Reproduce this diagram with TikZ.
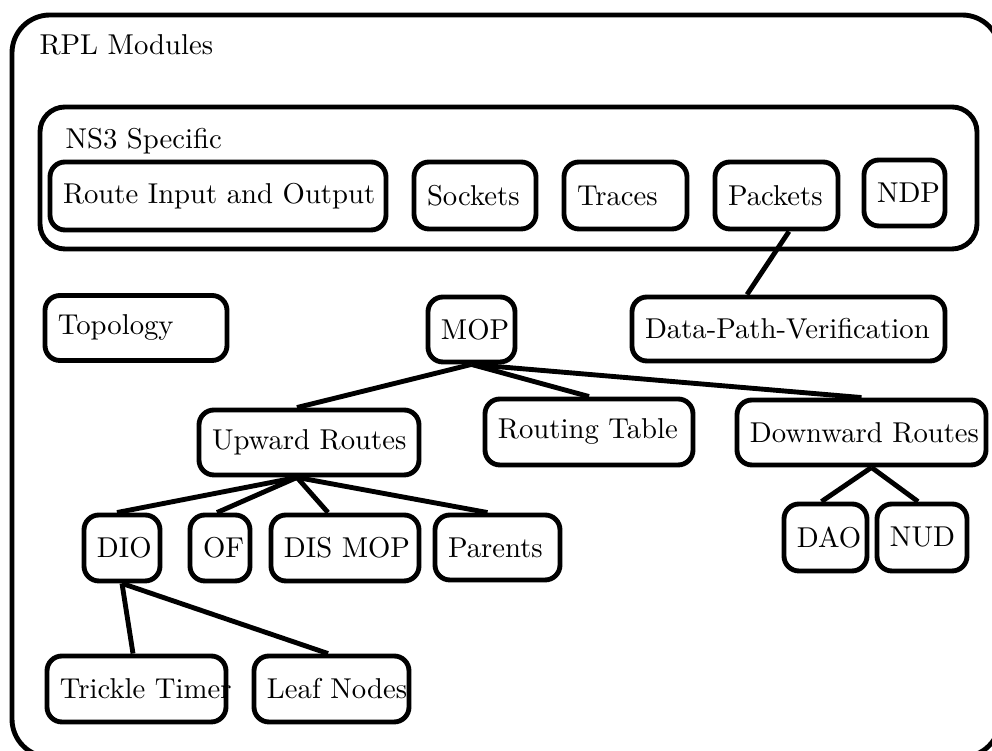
\documentclass[tikz,border=0pt]{standalone}
\usetikzlibrary{calc}
\newdimen\px \px=0.3484pt
\newcommand\bxt[2]{\makebox[#1\px][l]{#2}}
\begin{document}
\begin{tikzpicture}[x=0.3484pt, y=-0.3484pt,
  container/.style={draw, line width=1.7pt, inner sep=0pt},
  mbox/.style={draw, line width=1.7pt, rounded corners=5.2pt, inner xsep=13\px, inner ysep=0pt},
  title/.style={anchor=base west, inner sep=0pt},
  conn/.style={line width=1.7pt}]
\useasboundingbox (0,0) rectangle (992,751);

% containers
\node[container, rounded corners=13.2pt, minimum width=988\px, minimum height=742\px] (rpl) at (506,386) {};
\node[title] (rpltitle) at (39,55) {RPL Modules};
\node[container, rounded corners=8.7pt, minimum width=937\px, minimum height=142\px] (ns3) at (508.5,178) {};
\node[title] (ns3title) at (65,149) {NS3 Specific};

% NS3 boxes
\node[mbox, minimum width=336\px, minimum height=68\px] (rio) at (218,196) {\bxt{310}{Route Input and Output}};
\node[mbox, minimum width=122\px, minimum height=67\px] (sock) at (475,195.5) {\bxt{96}{Sockets}};
\node[mbox, minimum width=123\px, minimum height=67\px] (trac) at (625.5,195.5) {\bxt{97}{Traces}};
\node[mbox, minimum width=123\px, minimum height=67\px] (pack) at (776.5,195.5) {\bxt{97}{Packets}};
\node[mbox, minimum width=81\px, minimum height=66\px] (ndp) at (904.5,193) {\bxt{55}{NDP}};

% middle row
\node[mbox, minimum width=182\px, minimum height=65\px] (topo) at (136,328) {\bxt{156}{Topology}};
\node[mbox, minimum width=87\px, minimum height=65\px] (mop) at (471.5,329.5) {\bxt{61}{MOP}};
\node[mbox, minimum width=313\px, minimum height=64\px] (dpv) at (788.5,329) {\bxt{287}{Data-Path-Verification}};

% routes
\node[mbox, minimum width=220\px, minimum height=65\px] (up) at (309,442.5) {\bxt{194}{Upward Routes}};
\node[mbox, minimum width=208\px, minimum height=66\px] (rt) at (589,432) {\bxt{182}{Routing Table}};
\node[mbox, minimum width=249\px, minimum height=65\px] (down) at (861.5,432.5) {\bxt{223}{Downward Routes}};

% upward children
\node[mbox, minimum width=76\px, minimum height=66\px] (dio) at (122,548) {\bxt{50}{DIO}};
\node[mbox, minimum width=60\px, minimum height=66\px] (of) at (220,548) {\bxt{34}{OF}};
\node[mbox, minimum width=148\px, minimum height=66\px] (dis) at (345,548) {\bxt{122}{DIS MOP}};
\node[mbox, minimum width=125\px, minimum height=65\px] (par) at (497.5,547.5) {\bxt{99}{Parents}};

% downward children
\node[mbox, minimum width=83\px, minimum height=67\px] (dao) at (825.5,537.5) {\bxt{57}{DAO}};
\node[mbox, minimum width=90\px, minimum height=67\px] (nud) at (922,537.5) {\bxt{64}{NUD}};

% DIO children
\node[mbox, minimum width=179\px, minimum height=66\px] (tt) at (136.5,689) {\bxt{153}{Trickle Timer}};
\node[mbox, minimum width=155\px, minimum height=66\px] (leaf) at (331.5,689) {\bxt{129}{Leaf Nodes}};

% connectors
\draw[conn] ($(pack.south)+(12.5,0)$) -- ($(dpv.north)+(-41.5,0)$);
\draw[conn] (mop.south) -- ($(up.north)+(-12,0)$);
\draw[conn] (mop.south) -- (rt.north);
\draw[conn] (mop.south) -- (down.north);
\draw[conn] ($(up.south)+(-12,0)$) -- ($(dio.north)+(-5,0)$);
\draw[conn] ($(up.south)+(-12,0)$) -- ($(of.north)+(-3,0)$);
\draw[conn] ($(up.south)+(-12,0)$) -- ($(dis.north)+(-17,0)$);
\draw[conn] ($(up.south)+(-12,0)$) -- ($(par.north)+(-10,0)$);
\draw[conn] ($(down.south)+(10,0)$) -- ($(dao.north)+(-4,0)$);
\draw[conn] ($(down.south)+(10,0)$) -- ($(nud.north)+(-4,0)$);
\draw[conn] (dio.south) -- ($(tt.north)+(-3.5,0)$);
\draw[conn] (dio.south) -- ($(leaf.north)+(-3.5,0)$);
\end{tikzpicture}
\end{document}
